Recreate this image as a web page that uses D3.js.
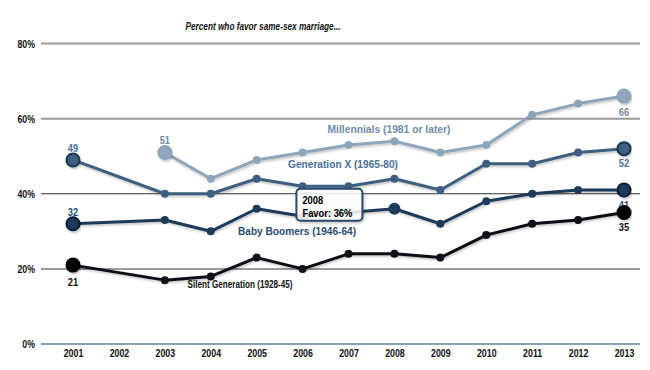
<!DOCTYPE html>
<html><head><meta charset="utf-8">
<script src="https://cdn.jsdelivr.net/npm/d3@7"></script>
<style>
body{margin:0;background:#fff;}
svg{display:block;font-family:"Liberation Sans",Arial,sans-serif;}
</style></head>
<body><svg id="c" width="650" height="370"></svg>
<script>
const years = [2001,2002,2003,2004,2005,2006,2007,2008,2009,2010,2011,2012,2013];
const millennials = [null,null,51,44,49,51,53,54,51,53,61,64,66];
const genX = [49,null,40,40,44,42,42,44,41,48,48,51,52];
const boomers = [32,null,33,30,36,34,35,36,32,38,40,41,41];
const silent = [21,null,17,18,23,20,24,24,23,29,32,33,35];
const yTicks = [0,20,40,60,80];
const seriesNames = ["Millennials (1981 or later)","Generation X (1965-80)","Baby Boomers (1946-64)","Silent Generation (1928-45)"];
const title = "Percent who favor same-sex marriage...";
const tipYear = 2008, tipValue = 36;

const svg = d3.select("#c");
const x = d3.scaleLinear().domain([2001,2013]).range([73,624]);
const y = d3.scaleLinear().domain([0,80]).range([344,43.5]);

// condensed look: shrink text horizontally to its measured width
function squeeze(sel, factor){
  sel.each(function(){
    const w = this.getComputedTextLength();
    d3.select(this).attr("textLength", w*factor).attr("lengthAdjust","spacingAndGlyphs");
  });
}

const t = svg.append("text").attr("x",263).attr("y",30).attr("text-anchor","middle")
  .attr("font-size",11).attr("font-weight","bold").attr("font-style","italic").attr("fill","#111").text(title);
t.attr("textLength",155).attr("lengthAdjust","spacingAndGlyphs");

// gridlines
yTicks.forEach(tk=>{
  let col="#9a9a9a", w=2;
  if(tk===40){col="#333";w=1;}
  if(tk===0){col="#8aa3bd";w=2;}
  svg.append("line").attr("x1",41).attr("x2",640).attr("y1",y(tk)).attr("y2",y(tk))
    .attr("stroke",col).attr("stroke-width",w);
});
const yAxis = d3.axisLeft(y).tickValues(yTicks).tickFormat(d=>d+"%").tickSize(0).tickPadding(0);
const ga = svg.append("g").attr("transform","translate(35,0)").call(yAxis);
ga.select(".domain").remove();
ga.selectAll("text").attr("font-size",11).attr("font-weight","bold").attr("fill","#111")
  .attr("font-family","'Liberation Sans',Arial,sans-serif");
squeeze(ga.selectAll("text"),0.8);

const xAxis = d3.axisBottom(x).tickValues(years).tickFormat(d3.format("d")).tickSize(0).tickPadding(0);
const gx = svg.append("g").attr("transform","translate(0,349)").call(xAxis);
gx.select(".domain").remove();
gx.selectAll("text").attr("font-size",11).attr("font-weight","bold").attr("fill","#111")
  .attr("font-family","'Liberation Sans',Arial,sans-serif");
squeeze(gx.selectAll("text"),0.8);

const defs = svg.append("defs");
const f = defs.append("filter").attr("id","sh").attr("x","-10%").attr("y","-30%").attr("width","120%").attr("height","160%");
f.append("feDropShadow").attr("dx",1).attr("dy",1.5).attr("stdDeviation",1).attr("flood-color","#000").attr("flood-opacity",0.25);

const series = [
  {vals:millennials,col:"#8ea5ba",end:"#8ea5ba",endStroke:"#8ea5ba",lab:"#6f8ba6",name:seriesNames[0],nx:389,ny:133,nw:123,startLab:-12,endLab:16},
  {vals:genX,col:"#3e5f80",end:"#3e5f80",endStroke:"#1d3550",lab:"#4a6f94",name:seriesNames[1],nx:343,ny:168,nw:110,startLab:-12,endLab:14},
  {vals:boomers,col:"#1e3b5a",end:"#1e3b5a",endStroke:"#0c1e32",lab:"#2b4d70",name:seriesNames[2],nx:297,ny:235,nw:118,startLab:-12,endLab:15},
  {vals:silent,col:"#0e1116",end:"#000",endStroke:"#000",lab:"#111",name:seriesNames[3],nx:240,ny:288,nw:105,startLab:17,endLab:14}
];
const line = d3.line().x(d=>x(d.yr)).y(d=>y(d.v));

series.forEach(s=>{
  const pts = years.map((yr,i)=>({yr,v:s.vals[i]})).filter(d=>d.v!==null);
  const g = svg.append("g");
  g.append("path").datum(pts).attr("d",line).attr("fill","none").attr("stroke",s.col)
    .attr("stroke-width",3).attr("stroke-linejoin","round").attr("filter","url(#sh)");
  g.selectAll("circle.p").data(pts.slice(1,-1)).join("circle").attr("class","p")
    .attr("cx",d=>x(d.yr)).attr("cy",d=>y(d.v)).attr("r",d=>(s.name===seriesNames[2]&&d.yr===tipYear)?6:4)
    .attr("fill",s.col);
  [pts[0],pts[pts.length-1]].forEach((d,k)=>{
    g.append("text").attr("x",x(d.yr)).attr("y",y(d.v)+(k===0?s.startLab:s.endLab)+4)
      .attr("text-anchor","middle").attr("font-size",11).attr("font-weight","bold")
      .attr("fill",s.lab).text(d.v).call(sel=>squeeze(sel,0.85));
    g.append("circle").attr("cx",x(d.yr)).attr("cy",y(d.v)).attr("r",6.5)
      .attr("fill",s.end).attr("stroke",s.endStroke).attr("stroke-width",2).attr("filter","url(#sh)");
  });
  svg.append("text").attr("x",s.nx).attr("y",s.ny).attr("text-anchor","middle")
    .attr("font-size",11).attr("font-weight","bold").attr("fill",s.lab).text(s.name)
    .attr("textLength",s.nw).attr("lengthAdjust","spacingAndGlyphs");
});

// tooltip
const tx = x(tipYear), ty = y(tipValue);
const tg = svg.append("g");
tg.append("rect").attr("x",tx-98).attr("y",ty-20).attr("width",66).attr("height",32).attr("rx",4)
  .attr("fill","rgba(255,255,255,0.85)").attr("stroke","#2b4a69").attr("stroke-width",2).attr("filter","url(#sh)");
tg.append("text").attr("x",tx-92).attr("y",ty-5).attr("font-size",11).attr("font-weight","bold").attr("fill","#000").text(tipYear)
  .call(sel=>squeeze(sel,0.85));
tg.append("text").attr("x",tx-92).attr("y",ty+8).attr("font-size",11).attr("font-weight","bold").attr("fill","#000").text("Favor: "+tipValue+"%")
  .attr("textLength",50).attr("lengthAdjust","spacingAndGlyphs");
</script></body></html>
